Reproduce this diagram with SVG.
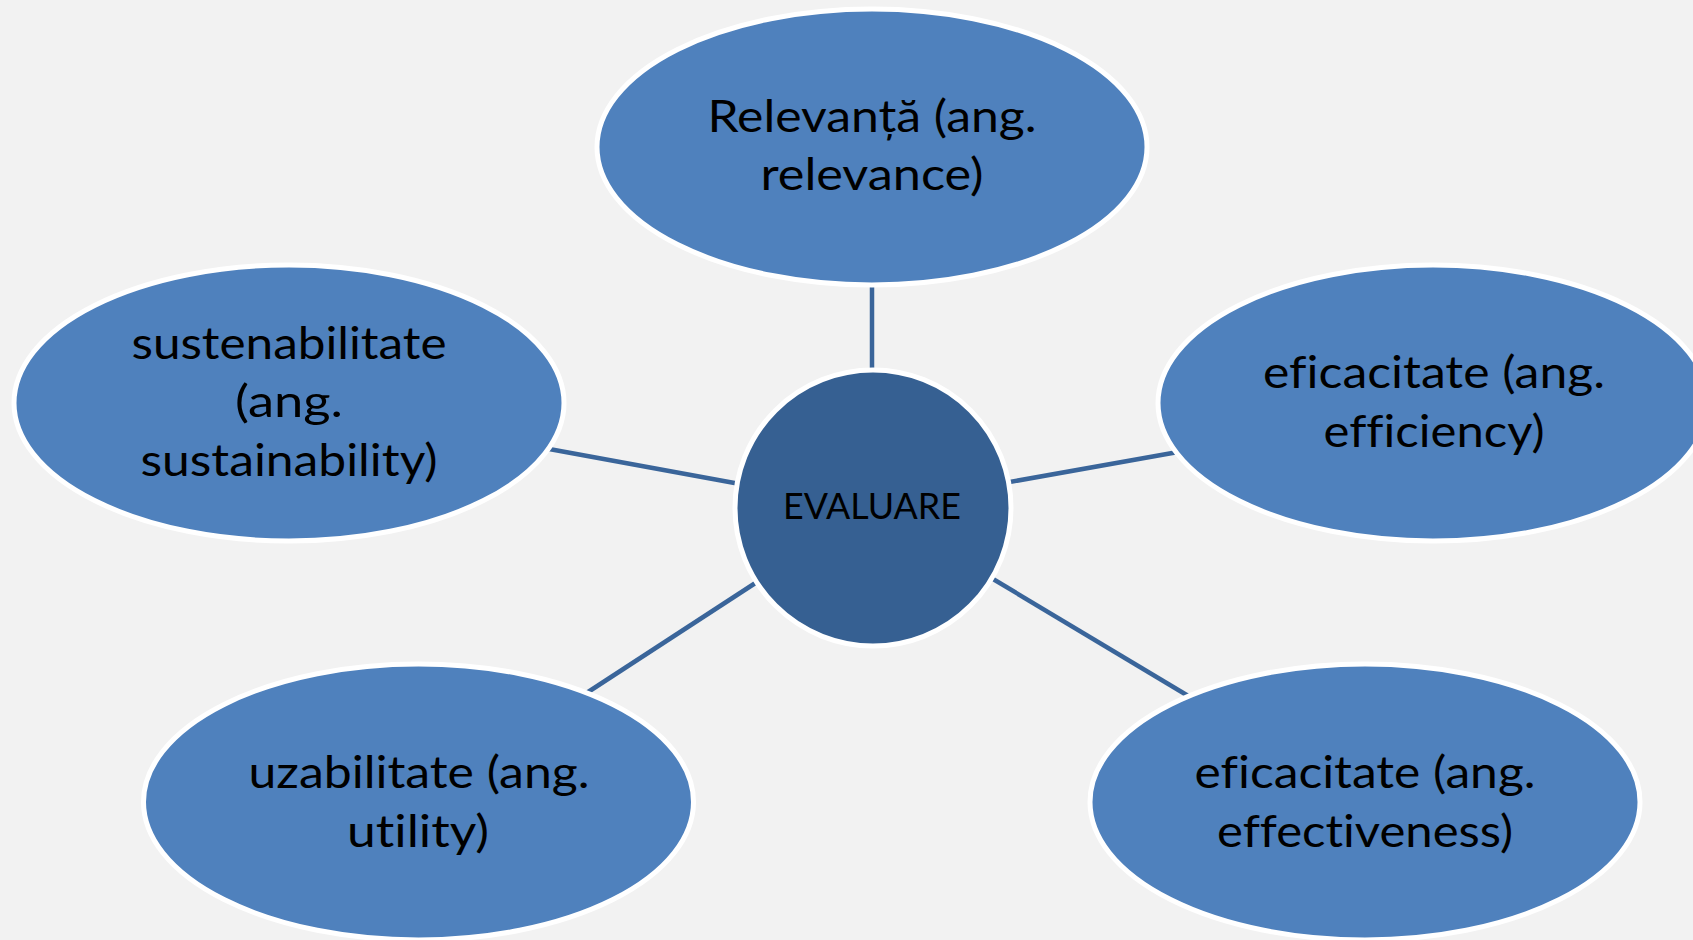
<svg xmlns="http://www.w3.org/2000/svg" width="1693" height="940" viewBox="0 0 1693 940">
  <style>
    .bg { fill: #F2F2F2; }
    .conn { stroke: #3A659A; stroke-width: 4.5; fill: none; }
    .leaf { fill: #4F81BD; stroke: #FFFFFF; stroke-width: 5; }
    .hub { fill: #366092; stroke: #FFFFFF; stroke-width: 5; }
    .lbl { font-family: Lato, "Open Sans", "Liberation Sans", sans-serif; font-size: 44px; fill: #000000; text-anchor: middle; font-variant-ligatures: none; font-feature-settings: "liga" 0, "clig" 0, "dlig" 0; }
    .hubl { font-family: Lato, "Open Sans", "Liberation Sans", sans-serif; font-size: 37px; fill: #000000; text-anchor: middle; }
  </style>
  <rect class="bg" x="0" y="0" width="1693" height="940"/>
  <g id="connectors">
    <line class="conn" x1="872" y1="282" x2="872" y2="372"/>
    <line class="conn" x1="545" y1="448.3" x2="740" y2="484"/>
    <line class="conn" x1="1004" y1="483" x2="1178" y2="452"/>
    <line class="conn" x1="760" y1="580" x2="585" y2="694"/>
    <line class="conn" x1="988" y1="576" x2="1190" y2="697"/>
  </g>
  <g id="node-relevanta">
    <ellipse class="leaf" cx="872" cy="147" rx="275" ry="138"/>
    <text class="lbl" x="872" y="132" textLength="329" lengthAdjust="spacingAndGlyphs">Relevanță (ang.</text>
    <text class="lbl" x="872" y="190" textLength="223" lengthAdjust="spacingAndGlyphs">relevance)</text>
  </g>
  <g id="node-sustenabilitate">
    <ellipse class="leaf" cx="289" cy="403" rx="275" ry="138"/>
    <text class="lbl" x="289" y="359" textLength="315" lengthAdjust="spacingAndGlyphs">sustenabilitate</text>
    <text class="lbl" x="289" y="417" textLength="108" lengthAdjust="spacingAndGlyphs">(ang.</text>
    <text class="lbl" x="289" y="476" textLength="297" lengthAdjust="spacingAndGlyphs">sustainability)</text>
  </g>
  <g id="node-eficacitate-efficiency">
    <ellipse class="leaf" cx="1433" cy="403" rx="275" ry="138"/>
    <text class="lbl" x="1434" y="388" textLength="342" lengthAdjust="spacingAndGlyphs">eficacitate (ang.</text>
    <text class="lbl" x="1434" y="447" textLength="221" lengthAdjust="spacingAndGlyphs">efficiency)</text>
  </g>
  <g id="node-uzabilitate">
    <ellipse class="leaf" cx="418.5" cy="802" rx="275" ry="138"/>
    <text class="lbl" x="419" y="788" textLength="341" lengthAdjust="spacingAndGlyphs">uzabilitate (ang.</text>
    <text class="lbl" x="418" y="847" textLength="142" lengthAdjust="spacingAndGlyphs">utility)</text>
  </g>
  <g id="node-eficacitate-effectiveness">
    <ellipse class="leaf" cx="1365" cy="802" rx="275" ry="138"/>
    <text class="lbl" x="1365" y="788" textLength="341" lengthAdjust="spacingAndGlyphs">eficacitate (ang.</text>
    <text class="lbl" x="1365" y="847" textLength="296" lengthAdjust="spacingAndGlyphs">effectiveness)</text>
  </g>
  <g id="node-evaluare">
    <circle class="hub" cx="873" cy="508" r="138"/>
    <text class="hubl" x="872" y="519" textLength="178" lengthAdjust="spacingAndGlyphs">EVALUARE</text>
  </g>
</svg>
